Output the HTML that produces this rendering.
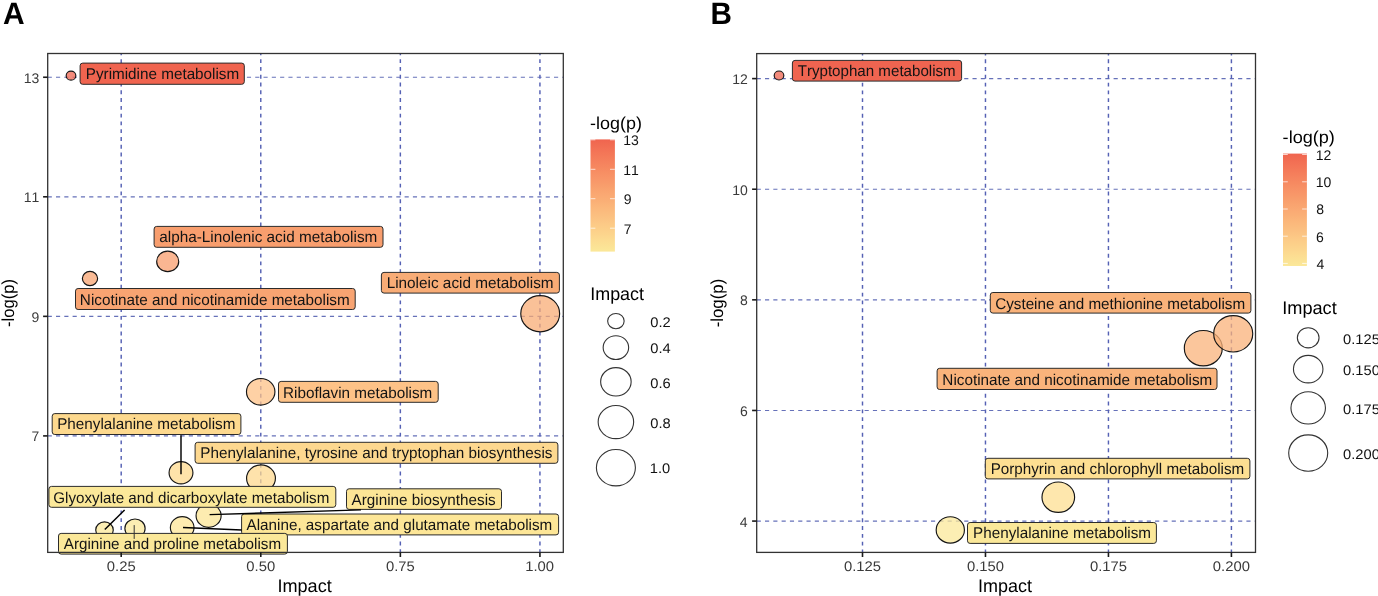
<!DOCTYPE html>
<html><head><meta charset="utf-8"><style>
html,body{margin:0;padding:0;background:#fff;width:1378px;height:596px;overflow:hidden}
svg{display:block}
text{font-family:"Liberation Sans",sans-serif;font-kerning:none;font-feature-settings:"kern" 0;text-rendering:geometricPrecision}
svg{will-change:transform}
</style></head><body>
<svg width="1378" height="596" viewBox="0 0 1378 596">
<rect width="1378" height="596" fill="#fff"/>
<line x1="47.70" y1="435.90" x2="563.30" y2="435.90" stroke="#6671B9" stroke-width="1.15" stroke-dasharray="4.15 4.15"/>
<line x1="47.70" y1="316.35" x2="563.30" y2="316.35" stroke="#6671B9" stroke-width="1.15" stroke-dasharray="4.15 4.15"/>
<line x1="47.70" y1="196.80" x2="563.30" y2="196.80" stroke="#6671B9" stroke-width="1.15" stroke-dasharray="4.15 4.15"/>
<line x1="47.70" y1="77.25" x2="563.30" y2="77.25" stroke="#6671B9" stroke-width="1.15" stroke-dasharray="4.15 4.15"/>
<line x1="121.20" y1="53.50" x2="121.20" y2="552.40" stroke="#5561B4" stroke-width="1.45" stroke-dasharray="3.89 3.89" stroke-dashoffset="2.08"/>
<line x1="260.78" y1="53.50" x2="260.78" y2="552.40" stroke="#5561B4" stroke-width="1.45" stroke-dasharray="3.89 3.89" stroke-dashoffset="2.08"/>
<line x1="400.35" y1="53.50" x2="400.35" y2="552.40" stroke="#5561B4" stroke-width="1.45" stroke-dasharray="3.89 3.89" stroke-dashoffset="2.08"/>
<line x1="539.93" y1="53.50" x2="539.93" y2="552.40" stroke="#5561B4" stroke-width="1.45" stroke-dasharray="3.89 3.89" stroke-dashoffset="2.08"/>
<ellipse cx="71.00" cy="75.65" rx="4.83" ry="4.47" fill="#F0644F" fill-opacity="0.75" stroke="#151515" stroke-width="1.15"/>
<ellipse cx="167.70" cy="261.40" rx="11.03" ry="10.27" fill="#F89E6E" fill-opacity="0.75" stroke="#151515" stroke-width="1.15"/>
<ellipse cx="90.00" cy="278.50" rx="7.62" ry="7.09" fill="#F8A472" fill-opacity="0.75" stroke="#151515" stroke-width="1.15"/>
<ellipse cx="540.20" cy="313.70" rx="19.43" ry="18.12" fill="#F8AC76" fill-opacity="0.75" stroke="#151515" stroke-width="1.15"/>
<ellipse cx="260.70" cy="391.80" rx="14.23" ry="13.26" fill="#FDC287" fill-opacity="0.75" stroke="#151515" stroke-width="1.15"/>
<ellipse cx="181.00" cy="472.80" rx="11.93" ry="11.11" fill="#FDD98E" fill-opacity="0.75" stroke="#151515" stroke-width="1.15"/>
<ellipse cx="261.00" cy="478.30" rx="14.43" ry="13.44" fill="#FDD88F" fill-opacity="0.75" stroke="#151515" stroke-width="1.15"/>
<ellipse cx="104.50" cy="530.00" rx="8.78" ry="8.16" fill="#FBE899" fill-opacity="0.75" stroke="#151515" stroke-width="1.15"/>
<ellipse cx="135.00" cy="528.40" rx="10.12" ry="9.42" fill="#FBE899" fill-opacity="0.75" stroke="#151515" stroke-width="1.15"/>
<ellipse cx="208.60" cy="515.70" rx="12.53" ry="11.67" fill="#FCE596" fill-opacity="0.75" stroke="#151515" stroke-width="1.15"/>
<ellipse cx="182.20" cy="527.60" rx="11.83" ry="11.01" fill="#FDE697" fill-opacity="0.75" stroke="#151515" stroke-width="1.15"/>
<rect x="80.10" y="63.10" width="164.20" height="21.20" rx="2.6" ry="2.6" fill="#F0644F" stroke="#2b2b2b" stroke-width="1.0"/>
<text transform="translate(85.75,78.90) scale(1.0171,1.0350)" font-size="15" fill="#141414">Pyrimidine metabolism</text>
<rect x="154.10" y="226.40" width="228.90" height="20.90" rx="2.6" ry="2.6" fill="#F89E6E" stroke="#2b2b2b" stroke-width="1.0"/>
<text transform="translate(159.25,241.90) scale(1.0216,1.0350)" font-size="15" fill="#141414">alpha-Linolenic acid metabolism</text>
<rect x="75.50" y="288.50" width="279.70" height="21.00" rx="2.6" ry="2.6" fill="#F8A472" stroke="#2b2b2b" stroke-width="1.0"/>
<text transform="translate(79.85,304.80) scale(1.0178,1.0350)" font-size="15" fill="#141414">Nicotinate and nicotinamide metabolism</text>
<rect x="381.40" y="272.40" width="178.00" height="20.70" rx="2.6" ry="2.6" fill="#F8AC76" stroke="#2b2b2b" stroke-width="1.0"/>
<text transform="translate(386.64,288.20) scale(1.0218,1.0350)" font-size="15" fill="#141414">Linoleic acid metabolism</text>
<rect x="278.50" y="381.40" width="159.70" height="20.90" rx="2.6" ry="2.6" fill="#FDC287" stroke="#2b2b2b" stroke-width="1.0"/>
<text transform="translate(283.05,397.90) scale(1.0173,1.0350)" font-size="15" fill="#141414">Riboflavin metabolism</text>
<rect x="52.20" y="413.60" width="188.70" height="20.90" rx="2.6" ry="2.6" fill="#FDD98E" stroke="#2b2b2b" stroke-width="1.0"/>
<text transform="translate(57.15,429.00) scale(1.0180,1.0350)" font-size="15" fill="#141414">Phenylalanine metabolism</text>
<rect x="195.10" y="442.30" width="362.80" height="21.00" rx="2.6" ry="2.6" fill="#FDD88F" stroke="#2b2b2b" stroke-width="1.0"/>
<text transform="translate(200.25,458.00) scale(1.0178,1.0350)" font-size="15" fill="#141414">Phenylalanine, tyrosine and tryptophan biosynthesis</text>
<rect x="48.90" y="486.40" width="286.90" height="20.90" rx="2.6" ry="2.6" fill="#FBE899" stroke="#2b2b2b" stroke-width="1.0"/>
<text transform="translate(53.24,503.20) scale(1.0126,1.0350)" font-size="15" fill="#141414">Glyoxylate and dicarboxylate metabolism</text>
<rect x="346.50" y="488.80" width="155.00" height="20.60" rx="2.6" ry="2.6" fill="#FCE596" stroke="#2b2b2b" stroke-width="1.0"/>
<text transform="translate(351.57,504.50) scale(1.0165,1.0350)" font-size="15" fill="#141414">Arginine biosynthesis</text>
<rect x="241.60" y="514.00" width="317.00" height="20.90" rx="2.6" ry="2.6" fill="#FDE697" stroke="#2b2b2b" stroke-width="1.0"/>
<text transform="translate(246.57,529.80) scale(1.0157,1.0350)" font-size="15" fill="#141414">Alanine, aspartate and glutamate metabolism</text>
<rect x="58.50" y="533.40" width="228.90" height="20.70" rx="2.6" ry="2.6" fill="#FBE899" stroke="#2b2b2b" stroke-width="1.0"/>
<text transform="translate(63.77,548.50) scale(1.0142,1.0350)" font-size="15" fill="#141414">Arginine and proline metabolism</text>
<line x1="181.00" y1="474.30" x2="181.00" y2="435.30" stroke="#000" stroke-width="1.45"/>
<line x1="104.80" y1="529.60" x2="124.60" y2="510.00" stroke="#000" stroke-width="1.45"/>
<line x1="209.60" y1="514.60" x2="361.00" y2="509.90" stroke="#000" stroke-width="1.45"/>
<line x1="183.00" y1="527.50" x2="241.70" y2="530.00" stroke="#000" stroke-width="1.45"/>
<line x1="134.20" y1="525.10" x2="134.20" y2="538.90" stroke="#333" stroke-width="1.0"/>
<rect x="47.70" y="53.50" width="515.60" height="498.90" fill="none" stroke="#333333" stroke-width="1.3"/>
<line x1="121.20" y1="552.40" x2="121.20" y2="557.00" stroke="#1a1a1a" stroke-width="1.6"/>
<text transform="translate(106.78,570.90) scale(1.0600,1)" font-size="14" fill="#3a3a3a">0.25</text>
<line x1="260.78" y1="552.40" x2="260.78" y2="557.00" stroke="#1a1a1a" stroke-width="1.6"/>
<text transform="translate(246.34,570.90) scale(1.0600,1)" font-size="14" fill="#3a3a3a">0.50</text>
<line x1="400.35" y1="552.40" x2="400.35" y2="557.00" stroke="#1a1a1a" stroke-width="1.6"/>
<text transform="translate(385.94,570.90) scale(1.0600,1)" font-size="14" fill="#3a3a3a">0.75</text>
<line x1="539.93" y1="552.40" x2="539.93" y2="557.00" stroke="#1a1a1a" stroke-width="1.6"/>
<text transform="translate(525.22,570.90) scale(1.0600,1)" font-size="14" fill="#3a3a3a">1.00</text>
<line x1="43.10" y1="77.25" x2="47.70" y2="77.25" stroke="#1a1a1a" stroke-width="1.6"/>
<text transform="translate(23.64,82.75) scale(1.0000,1)" font-size="14" fill="#3a3a3a">13</text>
<line x1="43.10" y1="196.80" x2="47.70" y2="196.80" stroke="#1a1a1a" stroke-width="1.6"/>
<text transform="translate(23.71,202.30) scale(1.0000,1)" font-size="14" fill="#3a3a3a">11</text>
<line x1="43.10" y1="316.35" x2="47.70" y2="316.35" stroke="#1a1a1a" stroke-width="1.6"/>
<text transform="translate(31.48,321.85) scale(1.0000,1)" font-size="14" fill="#3a3a3a">9</text>
<line x1="43.10" y1="435.90" x2="47.70" y2="435.90" stroke="#1a1a1a" stroke-width="1.6"/>
<text transform="translate(31.52,441.40) scale(1.0000,1)" font-size="14" fill="#3a3a3a">7</text>
<text transform="translate(277.43,591.60) scale(1.0399,1.0500)" font-size="17.4" fill="#000">Impact</text>
<text transform="translate(14.20,326.94) rotate(-90) scale(0.9540,1)" font-size="17.4" fill="#000">-log(p)</text>
<text transform="translate(2.95,23.80) scale(0.9987,1.0300)" font-size="30" font-weight="bold" fill="#000">A</text>
<text transform="translate(590.10,129.20) scale(1.0325,1.0000)" font-size="17.4" fill="#000">-log(p)</text>
<defs><linearGradient id="cbA" x1="0" y1="0" x2="0" y2="1">
<stop offset="0.00" stop-color="#f0644f"/>
<stop offset="0.05" stop-color="#f16c52"/>
<stop offset="0.10" stop-color="#f37356"/>
<stop offset="0.15" stop-color="#f47a59"/>
<stop offset="0.20" stop-color="#f5815d"/>
<stop offset="0.25" stop-color="#f68860"/>
<stop offset="0.30" stop-color="#f78f64"/>
<stop offset="0.35" stop-color="#f89568"/>
<stop offset="0.40" stop-color="#f89c6b"/>
<stop offset="0.45" stop-color="#f9a36f"/>
<stop offset="0.50" stop-color="#faa973"/>
<stop offset="0.55" stop-color="#faaf76"/>
<stop offset="0.60" stop-color="#fbb67a"/>
<stop offset="0.65" stop-color="#fbbc7e"/>
<stop offset="0.70" stop-color="#fbc282"/>
<stop offset="0.75" stop-color="#fcc986"/>
<stop offset="0.80" stop-color="#fccf89"/>
<stop offset="0.85" stop-color="#fcd58d"/>
<stop offset="0.90" stop-color="#fcdc91"/>
<stop offset="0.95" stop-color="#fbe295"/>
<stop offset="1.00" stop-color="#fbe899"/>
</linearGradient></defs>
<rect x="590.50" y="139.40" width="24.40" height="112.20" fill="url(#cbA)"/>
<line x1="590.50" y1="139.80" x2="595.38" y2="139.80" stroke="#fff" stroke-width="0.9" stroke-opacity="0.8"/>
<line x1="610.02" y1="139.80" x2="614.90" y2="139.80" stroke="#fff" stroke-width="0.9" stroke-opacity="0.8"/>
<text transform="translate(623.33,145.25) scale(1.0000,1)" font-size="14" fill="#111">13</text>
<line x1="590.50" y1="169.30" x2="595.38" y2="169.30" stroke="#fff" stroke-width="0.9" stroke-opacity="0.8"/>
<line x1="610.02" y1="169.30" x2="614.90" y2="169.30" stroke="#fff" stroke-width="0.9" stroke-opacity="0.8"/>
<text transform="translate(623.33,174.75) scale(1.0000,1)" font-size="14" fill="#111">11</text>
<line x1="590.50" y1="198.70" x2="595.38" y2="198.70" stroke="#fff" stroke-width="0.9" stroke-opacity="0.8"/>
<line x1="610.02" y1="198.70" x2="614.90" y2="198.70" stroke="#fff" stroke-width="0.9" stroke-opacity="0.8"/>
<text transform="translate(623.74,204.15) scale(1.0000,1)" font-size="14" fill="#111">9</text>
<line x1="590.50" y1="228.20" x2="595.38" y2="228.20" stroke="#fff" stroke-width="0.9" stroke-opacity="0.8"/>
<line x1="610.02" y1="228.20" x2="614.90" y2="228.20" stroke="#fff" stroke-width="0.9" stroke-opacity="0.8"/>
<text transform="translate(623.68,233.65) scale(1.0000,1)" font-size="14" fill="#111">7</text>
<text transform="translate(590.25,299.70) scale(1.0300,1.0500)" font-size="17.4" fill="#000">Impact</text>
<ellipse cx="615.90" cy="321.10" rx="8.25" ry="7.67" fill="none" stroke="#333" stroke-width="1.1"/>
<text transform="translate(650.33,326.80) scale(1.0500,1)" font-size="14" fill="#111">0.2</text>
<ellipse cx="615.90" cy="347.60" rx="12.75" ry="11.88" fill="none" stroke="#333" stroke-width="1.1"/>
<text transform="translate(650.33,353.30) scale(1.0500,1)" font-size="14" fill="#111">0.4</text>
<ellipse cx="615.90" cy="381.80" rx="15.25" ry="14.22" fill="none" stroke="#333" stroke-width="1.1"/>
<text transform="translate(650.33,387.50) scale(1.0500,1)" font-size="14" fill="#111">0.6</text>
<ellipse cx="615.90" cy="422.10" rx="17.75" ry="16.55" fill="none" stroke="#333" stroke-width="1.1"/>
<text transform="translate(650.33,427.80) scale(1.0500,1)" font-size="14" fill="#111">0.8</text>
<ellipse cx="615.90" cy="467.70" rx="19.50" ry="18.19" fill="none" stroke="#333" stroke-width="1.1"/>
<text transform="translate(649.78,473.40) scale(1.0500,1)" font-size="14" fill="#111">1.0</text>
<line x1="756.70" y1="521.08" x2="1255.50" y2="521.08" stroke="#6671B9" stroke-width="1.15" stroke-dasharray="4.15 4.15"/>
<line x1="756.70" y1="410.46" x2="1255.50" y2="410.46" stroke="#6671B9" stroke-width="1.15" stroke-dasharray="4.15 4.15"/>
<line x1="756.70" y1="299.84" x2="1255.50" y2="299.84" stroke="#6671B9" stroke-width="1.15" stroke-dasharray="4.15 4.15"/>
<line x1="756.70" y1="189.22" x2="1255.50" y2="189.22" stroke="#6671B9" stroke-width="1.15" stroke-dasharray="4.15 4.15"/>
<line x1="756.70" y1="78.60" x2="1255.50" y2="78.60" stroke="#6671B9" stroke-width="1.15" stroke-dasharray="4.15 4.15"/>
<line x1="862.50" y1="53.60" x2="862.50" y2="552.40" stroke="#5561B4" stroke-width="1.45" stroke-dasharray="3.89 3.89" stroke-dashoffset="2.08"/>
<line x1="985.47" y1="53.60" x2="985.47" y2="552.40" stroke="#5561B4" stroke-width="1.45" stroke-dasharray="3.89 3.89" stroke-dashoffset="2.08"/>
<line x1="1108.44" y1="53.60" x2="1108.44" y2="552.40" stroke="#5561B4" stroke-width="1.45" stroke-dasharray="3.89 3.89" stroke-dashoffset="2.08"/>
<line x1="1231.41" y1="53.60" x2="1231.41" y2="552.40" stroke="#5561B4" stroke-width="1.45" stroke-dasharray="3.89 3.89" stroke-dashoffset="2.08"/>
<ellipse cx="779.00" cy="75.50" rx="4.83" ry="4.47" fill="#EF6450" fill-opacity="0.75" stroke="#151515" stroke-width="1.15"/>
<ellipse cx="1203.30" cy="348.20" rx="18.98" ry="17.70" fill="#F9B37B" fill-opacity="0.75" stroke="#151515" stroke-width="1.15"/>
<ellipse cx="1233.20" cy="333.80" rx="19.53" ry="18.21" fill="#F9B27A" fill-opacity="0.75" stroke="#151515" stroke-width="1.15"/>
<ellipse cx="1058.30" cy="497.20" rx="16.32" ry="15.22" fill="#FDDF92" fill-opacity="0.75" stroke="#151515" stroke-width="1.15"/>
<ellipse cx="950.30" cy="529.90" rx="14.12" ry="13.16" fill="#FBE899" fill-opacity="0.75" stroke="#151515" stroke-width="1.15"/>
<rect x="792.40" y="60.40" width="169.20" height="20.70" rx="2.6" ry="2.6" fill="#EF6450" stroke="#2b2b2b" stroke-width="1.0"/>
<text transform="translate(797.66,75.80) scale(1.0083,1.0350)" font-size="15" fill="#141414">Tryptophan metabolism</text>
<rect x="990.30" y="292.50" width="260.60" height="20.60" rx="2.6" ry="2.6" fill="#F9B27A" stroke="#2b2b2b" stroke-width="1.0"/>
<text transform="translate(995.13,308.60) scale(1.0167,1.0350)" font-size="15" fill="#141414">Cysteine and methionine metabolism</text>
<rect x="937.10" y="368.30" width="279.90" height="21.20" rx="2.6" ry="2.6" fill="#F9B37B" stroke="#2b2b2b" stroke-width="1.0"/>
<text transform="translate(942.35,384.80) scale(1.0182,1.0350)" font-size="15" fill="#141414">Nicotinate and nicotinamide metabolism</text>
<rect x="985.30" y="458.30" width="264.60" height="20.60" rx="2.6" ry="2.6" fill="#FDDF92" stroke="#2b2b2b" stroke-width="1.0"/>
<text transform="translate(990.65,473.50) scale(1.0137,1.0350)" font-size="15" fill="#141414">Porphyrin and chlorophyll metabolism</text>
<rect x="967.50" y="522.50" width="188.90" height="20.90" rx="2.6" ry="2.6" fill="#FBE899" stroke="#2b2b2b" stroke-width="1.0"/>
<text transform="translate(973.05,537.80) scale(1.0163,1.0350)" font-size="15" fill="#141414">Phenylalanine metabolism</text>
<rect x="756.70" y="53.60" width="498.80" height="498.80" fill="none" stroke="#333333" stroke-width="1.3"/>
<line x1="862.50" y1="552.40" x2="862.50" y2="557.00" stroke="#1a1a1a" stroke-width="1.6"/>
<text transform="translate(843.95,570.90) scale(1.0600,1)" font-size="14" fill="#3a3a3a">0.125</text>
<line x1="985.47" y1="552.40" x2="985.47" y2="557.00" stroke="#1a1a1a" stroke-width="1.6"/>
<text transform="translate(966.90,570.90) scale(1.0600,1)" font-size="14" fill="#3a3a3a">0.150</text>
<line x1="1108.44" y1="552.40" x2="1108.44" y2="557.00" stroke="#1a1a1a" stroke-width="1.6"/>
<text transform="translate(1089.89,570.90) scale(1.0600,1)" font-size="14" fill="#3a3a3a">0.175</text>
<line x1="1231.41" y1="552.40" x2="1231.41" y2="557.00" stroke="#1a1a1a" stroke-width="1.6"/>
<text transform="translate(1212.84,570.90) scale(1.0600,1)" font-size="14" fill="#3a3a3a">0.200</text>
<line x1="752.10" y1="78.60" x2="756.70" y2="78.60" stroke="#1a1a1a" stroke-width="1.6"/>
<text transform="translate(732.33,84.10) scale(1.0000,1)" font-size="14" fill="#3a3a3a">12</text>
<line x1="752.10" y1="189.22" x2="756.70" y2="189.22" stroke="#1a1a1a" stroke-width="1.6"/>
<text transform="translate(732.17,194.72) scale(1.0000,1)" font-size="14" fill="#3a3a3a">10</text>
<line x1="752.10" y1="299.84" x2="756.70" y2="299.84" stroke="#1a1a1a" stroke-width="1.6"/>
<text transform="translate(740.02,305.34) scale(1.0000,1)" font-size="14" fill="#3a3a3a">8</text>
<line x1="752.10" y1="410.46" x2="756.70" y2="410.46" stroke="#1a1a1a" stroke-width="1.6"/>
<text transform="translate(740.03,415.96) scale(1.0000,1)" font-size="14" fill="#3a3a3a">6</text>
<line x1="752.10" y1="521.08" x2="756.70" y2="521.08" stroke="#1a1a1a" stroke-width="1.6"/>
<text transform="translate(739.82,526.58) scale(1.0000,1)" font-size="14" fill="#3a3a3a">4</text>
<text transform="translate(977.94,591.60) scale(1.0340,1.0500)" font-size="17.4" fill="#000">Impact</text>
<text transform="translate(722.90,327.35) rotate(-90) scale(0.9685,1)" font-size="17.4" fill="#000">-log(p)</text>
<text transform="translate(710.61,24.20) scale(0.9893,1.0300)" font-size="30" font-weight="bold" fill="#000">B</text>
<text transform="translate(1282.60,143.10) scale(1.0407,1.0000)" font-size="17.4" fill="#000">-log(p)</text>
<defs><linearGradient id="cbB" x1="0" y1="0" x2="0" y2="1">
<stop offset="0.00" stop-color="#f0644f"/>
<stop offset="0.05" stop-color="#f16c52"/>
<stop offset="0.10" stop-color="#f37356"/>
<stop offset="0.15" stop-color="#f47a59"/>
<stop offset="0.20" stop-color="#f5815d"/>
<stop offset="0.25" stop-color="#f68860"/>
<stop offset="0.30" stop-color="#f78f64"/>
<stop offset="0.35" stop-color="#f89568"/>
<stop offset="0.40" stop-color="#f89c6b"/>
<stop offset="0.45" stop-color="#f9a36f"/>
<stop offset="0.50" stop-color="#faa973"/>
<stop offset="0.55" stop-color="#faaf76"/>
<stop offset="0.60" stop-color="#fbb67a"/>
<stop offset="0.65" stop-color="#fbbc7e"/>
<stop offset="0.70" stop-color="#fbc282"/>
<stop offset="0.75" stop-color="#fcc986"/>
<stop offset="0.80" stop-color="#fccf89"/>
<stop offset="0.85" stop-color="#fcd58d"/>
<stop offset="0.90" stop-color="#fcdc91"/>
<stop offset="0.95" stop-color="#fbe295"/>
<stop offset="1.00" stop-color="#fbe899"/>
</linearGradient></defs>
<rect x="1283.00" y="153.60" width="23.90" height="112.40" fill="url(#cbB)"/>
<line x1="1283.00" y1="154.50" x2="1287.78" y2="154.50" stroke="#fff" stroke-width="0.9" stroke-opacity="0.8"/>
<line x1="1302.12" y1="154.50" x2="1306.90" y2="154.50" stroke="#fff" stroke-width="0.9" stroke-opacity="0.8"/>
<text transform="translate(1315.73,159.95) scale(1.0000,1)" font-size="14" fill="#111">12</text>
<line x1="1283.00" y1="181.80" x2="1287.78" y2="181.80" stroke="#fff" stroke-width="0.9" stroke-opacity="0.8"/>
<line x1="1302.12" y1="181.80" x2="1306.90" y2="181.80" stroke="#fff" stroke-width="0.9" stroke-opacity="0.8"/>
<text transform="translate(1315.73,187.25) scale(1.0000,1)" font-size="14" fill="#111">10</text>
<line x1="1283.00" y1="209.00" x2="1287.78" y2="209.00" stroke="#fff" stroke-width="0.9" stroke-opacity="0.8"/>
<line x1="1302.12" y1="209.00" x2="1306.90" y2="209.00" stroke="#fff" stroke-width="0.9" stroke-opacity="0.8"/>
<text transform="translate(1316.19,214.45) scale(1.0000,1)" font-size="14" fill="#111">8</text>
<line x1="1283.00" y1="236.20" x2="1287.78" y2="236.20" stroke="#fff" stroke-width="0.9" stroke-opacity="0.8"/>
<line x1="1302.12" y1="236.20" x2="1306.90" y2="236.20" stroke="#fff" stroke-width="0.9" stroke-opacity="0.8"/>
<text transform="translate(1316.09,241.65) scale(1.0000,1)" font-size="14" fill="#111">6</text>
<line x1="1283.00" y1="263.40" x2="1287.78" y2="263.40" stroke="#fff" stroke-width="0.9" stroke-opacity="0.8"/>
<line x1="1302.12" y1="263.40" x2="1306.90" y2="263.40" stroke="#fff" stroke-width="0.9" stroke-opacity="0.8"/>
<text transform="translate(1316.48,268.85) scale(1.0000,1)" font-size="14" fill="#111">4</text>
<text transform="translate(1282.22,314.20) scale(1.0439,1.0500)" font-size="17.4" fill="#000">Impact</text>
<ellipse cx="1308.20" cy="337.80" rx="10.85" ry="10.10" fill="none" stroke="#333" stroke-width="1.1"/>
<text transform="translate(1343.03,343.50) scale(1.0500,1)" font-size="14" fill="#111">0.125</text>
<ellipse cx="1308.20" cy="369.10" rx="14.75" ry="13.75" fill="none" stroke="#333" stroke-width="1.1"/>
<text transform="translate(1343.03,374.80) scale(1.0500,1)" font-size="14" fill="#111">0.150</text>
<ellipse cx="1308.20" cy="407.90" rx="17.25" ry="16.09" fill="none" stroke="#333" stroke-width="1.1"/>
<text transform="translate(1343.03,413.60) scale(1.0500,1)" font-size="14" fill="#111">0.175</text>
<ellipse cx="1308.20" cy="453.10" rx="19.50" ry="18.19" fill="none" stroke="#333" stroke-width="1.1"/>
<text transform="translate(1343.03,458.80) scale(1.0500,1)" font-size="14" fill="#111">0.200</text>
</svg>
</body></html>
